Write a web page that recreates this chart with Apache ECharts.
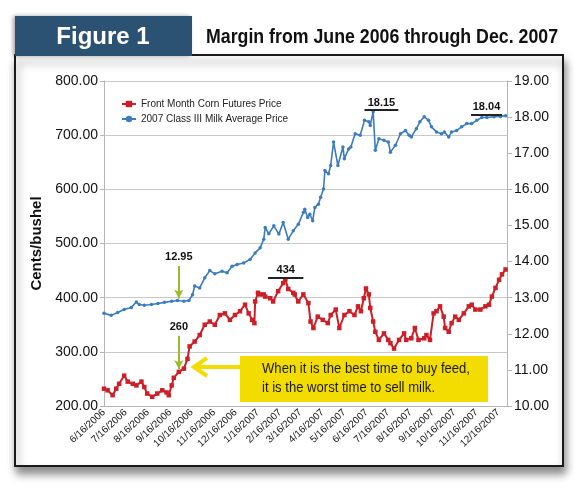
<!DOCTYPE html>
<html>
<head>
<meta charset="utf-8">
<script src="https://cdn.jsdelivr.net/npm/echarts@6/dist/echarts.min.js"></script>
<style>
html,body{margin:0;padding:0;background:#fff;}
#chart{width:575px;height:493px;}
</style>
</head>
<body>
<div id="chart"></div>
<script>
const SANS = "'Liberation Sans',Arial,Helvetica,sans-serif";

const tickLabels = ['6/16/2006','7/16/2006','8/16/2006','9/16/2006','10/16/2006','11/16/2006','12/16/2006',
  '1/16/2007','2/16/2007','3/16/2007','4/16/2007','5/16/2007','6/16/2007','7/16/2007','8/16/2007',
  '9/16/2007','10/16/2007','11/16/2007','12/16/2007'];
const axisStart = '6/16/2006';
const axisEnd = '12/28/2007';

const cornDates = ['6/16/2006','6/21/2006','6/28/2006','7/3/2006','7/7/2006','7/14/2006','7/19/2006','7/26/2006','7/31/2006',
  '8/7/2006','8/11/2006','8/15/2006','8/22/2006','8/29/2006','9/5/2006','9/11/2006','9/14/2006','9/18/2006','9/21/2006',
  '9/28/2006','10/5/2006','10/10/2006','10/13/2006','10/20/2006','10/27/2006','11/3/2006','11/10/2006','11/17/2006',
  '11/24/2006','12/1/2006','12/8/2006','12/15/2006','12/22/2006','12/29/2006','1/3/2007','1/8/2007','1/11/2007',
  '1/12/2007','1/16/2007','1/19/2007','1/24/2007','1/26/2007','2/2/2007','2/6/2007','2/13/2007','2/20/2007','2/23/2007',
  '2/27/2007','3/6/2007','3/8/2007','3/13/2007','3/20/2007','3/27/2007','3/30/2007','4/3/2007','4/9/2007','4/16/2007',
  '4/23/2007','4/27/2007','5/4/2007','5/9/2007','5/16/2007','5/23/2007','5/30/2007','6/4/2007','6/8/2007','6/12/2007',
  '6/15/2007','6/19/2007','6/21/2007','6/25/2007','6/28/2007','7/3/2007','7/10/2007','7/16/2007','7/19/2007','7/24/2007',
  '7/31/2007','8/7/2007','8/10/2007','8/17/2007','8/22/2007','8/27/2007','9/4/2007','9/7/2007','9/12/2007','9/17/2007',
  '9/21/2007','9/26/2007','10/1/2007','10/3/2007','10/8/2007','10/12/2007','10/17/2007','10/22/2007','10/29/2007',
  '11/5/2007','11/9/2007','11/14/2007','11/21/2007','11/28/2007','12/3/2007','12/7/2007','12/12/2007','12/17/2007',
  '12/21/2007','12/26/2007'];
const cornValues = [232,229,220,232,241,256,245,241,238,
  245,235,223,217,223,229,225,220,238,252,
  263,269,287,310,319,331,350,356,350,
  368,371,359,368,375,387,371,359,353,
  393,409,406,406,402,399,393,412,427,434,
  416,409,406,393,406,390,356,344,365,359,
  353,368,378,344,368,375,368,384,375,399,
  417,406,381,356,337,322,334,322,316,306,
  322,334,322,325,344,322,325,331,322,371,
  375,384,365,344,337,353,365,359,371,
  384,387,378,378,384,387,402,418,433,
  443,452];

const milkDates = ['6/16/2006','6/26/2006','7/5/2006','7/14/2006','7/24/2006','7/31/2006','8/4/2006','8/11/2006','8/21/2006',
  '8/30/2006','9/8/2006','9/18/2006','9/26/2006','10/5/2006','10/12/2006','10/17/2006','10/20/2006','10/27/2006',
  '11/3/2006','11/10/2006','11/17/2006','11/27/2006','12/4/2006','12/11/2006','12/18/2006','12/27/2006','1/5/2007',
  '1/12/2007','1/19/2007','1/24/2007','1/26/2007','1/31/2007','2/7/2007','2/14/2007','2/20/2007','2/27/2007','3/6/2007',
  '3/13/2007','3/20/2007','3/22/2007','3/26/2007','3/29/2007','4/2/2007','4/5/2007','4/10/2007','4/13/2007','4/17/2007',
  '4/19/2007','4/24/2007','4/27/2007','5/1/2007','5/7/2007','5/14/2007','5/16/2007','5/22/2007','5/25/2007','5/31/2007',
  '6/7/2007','6/13/2007','6/19/2007','6/21/2007','6/25/2007','6/28/2007','7/3/2007','7/10/2007','7/16/2007','7/19/2007',
  '7/26/2007','8/2/2007','8/9/2007','8/14/2007','8/17/2007','8/24/2007','8/29/2007','9/4/2007','9/10/2007','9/14/2007',
  '9/21/2007','9/28/2007','10/2/2007','10/8/2007','10/12/2007','10/19/2007','10/26/2007','11/2/2007','11/9/2007',
  '11/16/2007','11/23/2007','11/30/2007','12/10/2007','12/19/2007','12/26/2007'];
const milkValues = [12.57,12.51,12.59,12.67,12.73,12.88,12.81,12.79,12.81,
  12.84,12.87,12.90,12.92,12.90,12.92,13.08,13.32,13.27,
  13.55,13.75,13.66,13.73,13.69,13.87,13.92,13.96,14.06,
  14.24,14.38,14.62,14.94,14.77,14.99,14.76,15.08,14.62,14.85,
  15.03,15.36,15.45,15.22,15.31,15.13,15.50,15.59,15.78,16.01,
  16.52,16.43,16.66,17.31,16.66,17.17,16.85,17.12,17.17,17.54,
  17.50,17.91,17.87,17.77,18.15,17.08,17.40,17.36,17.31,17.03,
  17.22,17.54,17.63,17.50,17.45,17.68,17.87,18.01,17.91,17.73,
  17.59,17.54,17.59,17.45,17.59,17.63,17.73,17.82,17.82,
  17.91,17.99,17.99,18.01,18.02,18.04];

const leftTicks = {min:200, max:800, interval:100};
const rightTicks = {min:10, max:19, interval:1};

const titleText = 'Margin from June 2006 through Dec. 2007';
const figureText = 'Figure 1';
const calloutLines = ['When it is the best time to buy feed,', 'it is the worst time to sell milk.'];

function toTime(s){ const p = s.split('/').map(Number); return new Date(p[2], p[0]-1, p[1]).getTime(); }
function fmtDate(v){ const d = new Date(v); return (d.getMonth()+1)+'/'+d.getDate()+'/'+d.getFullYear(); }

const measureCtx = document.createElement('canvas').getContext('2d');
function fitScale(text, font, target){
  measureCtx.font = font;
  const w = measureCtx.measureText(text).width;
  return w > 0 ? Math.min(1, target / w) : 1;
}

const TITLE_FONT = "bold 20px " + SANS;
const CALLOUT_FONT = "15px " + SANS;
const titleScale = fitScale(titleText, TITLE_FONT, 352);
const calloutScale = fitScale(calloutLines[0], CALLOUT_FONT, 208);

const chart = echarts.init(document.getElementById('chart'), null, {renderer:'canvas'});

const GREEN = '#9cbb2c';
const annLabel = {show:true, formatter:'{b}', color:'#111', fontFamily:SANS, fontWeight:'bold', fontSize:11};

const option = {
  backgroundColor:'#ffffff',
  animation:false,
  grid:{left:104, right:68, top:81, bottom:87},
  legend:{
    left:116, top:94, orient:'vertical', itemWidth:14, itemHeight:8, itemGap:5,
    textStyle:{fontFamily:SANS, fontSize:10, color:'#222'},
    data:['Front Month Corn Futures Price','2007 Class III Milk Average Price']
  },
  xAxis:{
    type:'value', min:toTime(axisStart), max:toTime(axisEnd), scale:true,
    axisLine:{lineStyle:{color:'#b5b5b5', width:1}},
    axisTick:{show:false},
    splitLine:{show:false},
    axisLabel:{
      customValues: tickLabels.map(toTime),
      formatter: v => fmtDate(v),
      rotate:43, fontFamily:SANS, fontSize:10, color:'#111', margin:5,
      showMinLabel:true, showMaxLabel:true, hideOverlap:false
    }
  },
  yAxis:[
    {
      type:'value', min:leftTicks.min, max:leftTicks.max, interval:leftTicks.interval,
      name:'Cents/bushel', nameLocation:'middle', nameGap:57, nameRotate:90,
      nameTextStyle:{fontFamily:SANS, fontWeight:'bold', fontSize:15, color:'#111'},
      axisLine:{show:true, lineStyle:{color:'#b5b5b5'}},
      axisTick:{show:true, length:4, lineStyle:{color:'#b5b5b5'}},
      splitLine:{show:true, lineStyle:{color:'#c8c8c8', width:1}},
      axisLabel:{formatter:v=>v.toFixed(2), fontFamily:SANS, fontSize:14, color:'#111', margin:6}
    },
    {
      type:'value', min:rightTicks.min, max:rightTicks.max, interval:rightTicks.interval, position:'right',
      axisLine:{show:true, lineStyle:{color:'#b5b5b5'}},
      axisTick:{show:true, length:5, lineStyle:{color:'#b5b5b5'}},
      splitLine:{show:false},
      axisLabel:{formatter:v=>v.toFixed(2), fontFamily:SANS, fontSize:14, color:'#111', margin:7}
    }
  ],
  series:[
    {
      name:'Front Month Corn Futures Price', type:'line', yAxisIndex:0,
      data: cornDates.map((d,i)=>[toTime(d), cornValues[i]]),
      symbol:'rect', symbolSize:4.5, showAllSymbol:true,
      itemStyle:{color:'#cc1f27'}, lineStyle:{color:'#cc1f27', width:2}, z:3,
      markLine:{
        silent:true, symbol:['none','none'], animation:false,
        label:annLabel,
        data:[
          [{name:'434', coord:[toTime('1/30/2007'), 437.6], lineStyle:{color:'#222', width:2, type:'solid'}, label:{position:'insideMiddleTop', distance:2}},
           {coord:[toTime('3/20/2007'), 437.6]}],
          [{name:'260', coord:[toTime('9/28/2006'), 329.6], symbol:'none', lineStyle:{color:GREEN, width:2, type:'solid'}, label:{position:'start', distance:3}},
           {coord:[toTime('9/28/2006'), 268.5], symbol:'arrow', symbolSize:[7,9]}]
        ]
      }
    },
    {
      name:'2007 Class III Milk Average Price', type:'line', yAxisIndex:1,
      data: milkDates.map((d,i)=>[toTime(d), milkValues[i]]),
      symbol:'circle', symbolSize:3.5, showAllSymbol:true,
      itemStyle:{color:'#3b7cbd'}, lineStyle:{color:'#3b7cbd', width:1.6}, z:3,
      markLine:{
        silent:true, symbol:['none','none'], animation:false,
        label:annLabel,
        data:[
          [{name:'18.15', coord:[toTime('6/13/2007'), 18.19], lineStyle:{color:'#222', width:2, type:'solid'}, label:{position:'insideMiddleTop', distance:2}},
           {coord:[toTime('7/30/2007'), 18.19]}],
          [{name:'18.04', coord:[toTime('11/8/2007'), 18.06], lineStyle:{color:'#222', width:2, type:'solid'}, label:{position:'insideMiddleTop', distance:2}},
           {coord:[toTime('12/21/2007'), 18.06]}],
          [{name:'12.95', coord:[toTime('9/28/2006'), 13.88], symbol:'none', lineStyle:{color:GREEN, width:2, type:'solid'}, label:{position:'start', distance:3}},
           {coord:[toTime('9/28/2006'), 12.98], symbol:'arrow', symbolSize:[7,9]}]
        ]
      }
    }
  ],
  graphic:[
    {type:'rect', z:-10, shape:{x:15, y:55, width:548, height:411},
      style:{fill:'#ffffff', stroke:'#1a1a1a', lineWidth:2, shadowBlur:8, shadowOffsetX:2, shadowOffsetY:7, shadowColor:'rgba(0,0,0,0.45)'}},
    {type:'rect', z:-9, shape:{x:15, y:16, width:177, height:40},
      style:{fill:'#2b5173', shadowBlur:4, shadowOffsetX:-2, shadowOffsetY:0, shadowColor:'rgba(0,0,0,0.35)'}},
    {type:'text', z:50, x:103, y:37,
      style:{text:figureText, fill:'#ffffff', font:"bold 24px " + SANS, align:'center', verticalAlign:'middle'}},
    {type:'text', z:50, x:206, y:37, scaleX:titleScale,
      style:{text:titleText, fill:'#111', font:TITLE_FONT, align:'left', verticalAlign:'middle'}},
    {type:'rect', z:40, shape:{x:240, y:356, width:248, height:46}, style:{fill:'#f3dc00'}},
    {type:'text', z:41, x:262, y:369, scaleX:calloutScale,
      style:{text:calloutLines[0], fill:'#1a1a1a', font:CALLOUT_FONT, align:'left', verticalAlign:'middle'}},
    {type:'text', z:41, x:262, y:388, scaleX:calloutScale,
      style:{text:calloutLines[1], fill:'#1a1a1a', font:CALLOUT_FONT, align:'left', verticalAlign:'middle'}},
    {type:'polyline', z:41, shape:{points:[[240,367],[195,367]]}, style:{stroke:'#f3dc00', lineWidth:4, fill:null}},
    {type:'polyline', z:41, shape:{points:[[207,358],[194,367],[207,376]]}, style:{stroke:'#f3dc00', lineWidth:4, fill:null, lineJoin:'miter'}}
  ]
};
chart.setOption(option);
</script>
</body>
</html>
